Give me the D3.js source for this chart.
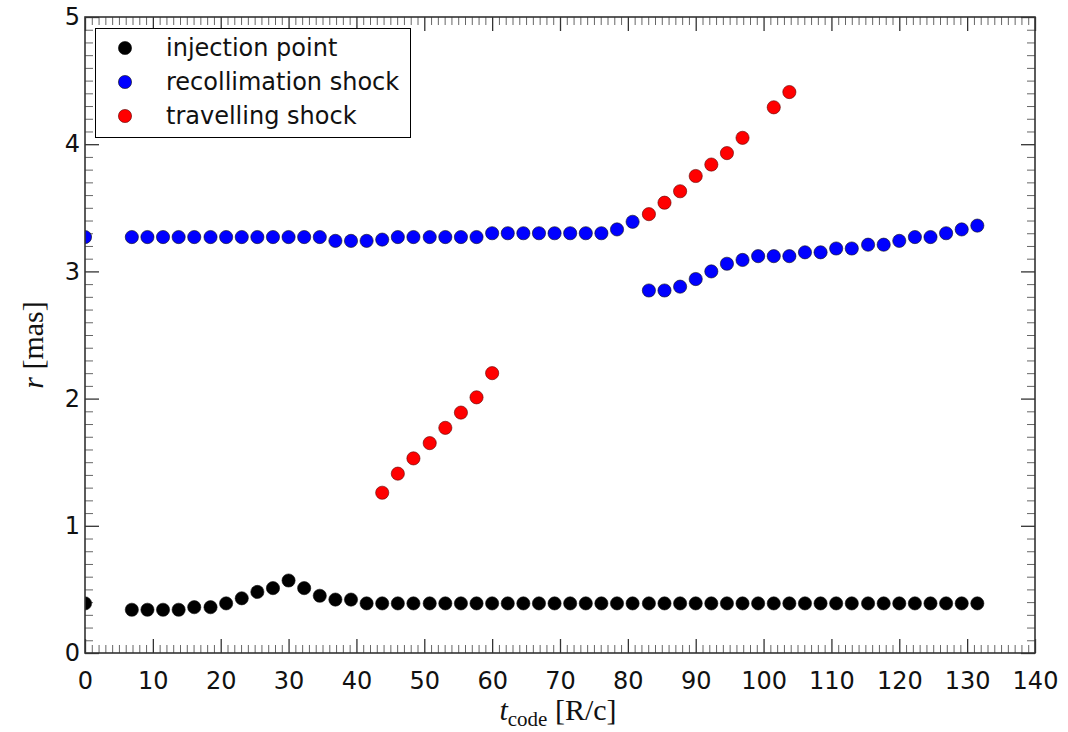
<!DOCTYPE html>
<html>
<head>
<meta charset="utf-8">
<script src="https://cdn.jsdelivr.net/npm/d3@7"></script>
<style>
	body{margin:0;background:#fff;}
	svg{display:block;}
</style>
</head>
<body>
<div id="container"></div>
<script>
// snapshot times (t_code), shared by injection point and recollimation shock
const tSnap = [0, 6.9, 9.2, 11.5, 13.8, 16.1, 18.5, 20.8, 23.1, 25.4, 27.7, 30.0, 32.3, 34.6, 36.9, 39.2, 41.5,
	43.8, 46.1, 48.4, 50.8, 53.1, 55.4, 57.7, 60.0, 62.3, 64.6, 66.9, 69.2, 71.5, 73.8, 76.1, 78.4, 80.7,
	83.1, 85.4, 87.7, 90.0, 92.3, 94.6, 96.9, 99.2, 101.5, 103.8, 106.1, 108.4, 110.7, 113.0, 115.4, 117.7,
	120.0, 122.3, 124.6, 126.9, 129.2, 131.5];

const rInjection = [0.39, 0.34, 0.34, 0.34, 0.34, 0.36, 0.36, 0.39, 0.43, 0.48, 0.51, 0.57, 0.51, 0.45, 0.42, 0.42, 0.39,
	0.39, 0.39, 0.39, 0.39, 0.39, 0.39, 0.39, 0.39, 0.39, 0.39, 0.39, 0.39, 0.39, 0.39, 0.39, 0.39, 0.39,
	0.39, 0.39, 0.39, 0.39, 0.39, 0.39, 0.39, 0.39, 0.39, 0.39, 0.39, 0.39, 0.39, 0.39, 0.39, 0.39,
	0.39, 0.39, 0.39, 0.39, 0.39, 0.39];

const rRecollimation = [3.27, 3.27, 3.27, 3.27, 3.27, 3.27, 3.27, 3.27, 3.27, 3.27, 3.27, 3.27, 3.27, 3.27, 3.24, 3.24, 3.24,
	3.25, 3.27, 3.27, 3.27, 3.27, 3.27, 3.27, 3.30, 3.30, 3.30, 3.30, 3.30, 3.30, 3.30, 3.30, 3.33, 3.39,
	2.85, 2.85, 2.88, 2.94, 3.00, 3.06, 3.09, 3.12, 3.12, 3.12, 3.15, 3.15, 3.18, 3.18, 3.21, 3.21,
	3.24, 3.27, 3.27, 3.30, 3.33, 3.36];

const tTravelling = [43.8, 46.1, 48.4, 50.8, 53.1, 55.4, 57.7, 60.0, 83.1, 85.4, 87.7, 90.0, 92.3, 94.6, 96.9, 101.5, 103.8];
const rTravelling = [1.26, 1.41, 1.53, 1.65, 1.77, 1.89, 2.01, 2.20, 3.45, 3.54, 3.63, 3.75, 3.84, 3.93, 4.05, 4.29, 4.41];

const seriesNames = ["injection point", "recollimation shock", "travelling shock"];
const seriesColors = ["#000000", "#0000ff", "#ff0000"];

const xTicks = [0, 10, 20, 30, 40, 50, 60, 70, 80, 90, 100, 110, 120, 130, 140];
const yTicks = [0, 1, 2, 3, 4, 5];

const width = 1068, height = 732;
const margin = {top: 17, right: 33, bottom: 79, left: 85};
const w = width - margin.left - margin.right;
const h = height - margin.top - margin.bottom;

let svg = d3.select("#container").append("svg")
	.attr("width", width)
	.attr("height", height);

let x = d3.scaleLinear().domain([0, 140]).range([0, w]);
let y = d3.scaleLinear().domain([0, 5]).range([h, 0]);

let g = svg.append("g").attr("transform", "translate(" + margin.left + "," + margin.top + ")");

svg.append("defs").append("clipPath").attr("id", "plotclip")
	.append("rect").attr("x", 0).attr("y", 0).attr("width", w).attr("height", h);

// minor ticks (inward, all four sides)
let xMinor = d3.range(0, 141, 1).filter(v => v % 10 != 0);
let yMinor = d3.range(0, 51, 1).filter(v => v % 10 != 0).map(v => v / 10);

function styleAxis(sel, minor){
	sel.select(".domain").remove();
	sel.selectAll("line").attr("stroke", minor ? "#666" : "#333").attr("stroke-width", minor ? 1 : 1.3);
}

g.append("g").attr("transform", "translate(0," + h + ")")
	.call(d3.axisBottom(x).tickValues(xMinor).tickSize(-8).tickFormat(""))
	.call(s => styleAxis(s, true));
g.append("g")
	.call(d3.axisTop(x).tickValues(xMinor).tickSize(-8).tickFormat(""))
	.call(s => styleAxis(s, true));
g.append("g")
	.call(d3.axisLeft(y).tickValues(yMinor).tickSize(-8).tickFormat(""))
	.call(s => styleAxis(s, true));
g.append("g").attr("transform", "translate(" + w + ",0)")
	.call(d3.axisRight(y).tickValues(yMinor).tickSize(-8).tickFormat(""))
	.call(s => styleAxis(s, true));

// major ticks
let xAxis = g.append("g").attr("transform", "translate(0," + h + ")")
	.call(d3.axisBottom(x).tickValues(xTicks).tickSize(-14).tickPadding(19).tickFormat(d3.format("d")));
styleAxis(xAxis, false);
g.append("g")
	.call(d3.axisTop(x).tickValues(xTicks).tickSize(-14).tickFormat(""))
	.call(s => styleAxis(s, false));
let yAxis = g.append("g")
	.call(d3.axisLeft(y).tickValues(yTicks).tickSize(-14).tickPadding(5).tickFormat(d3.format("d")));
styleAxis(yAxis, false);
g.append("g").attr("transform", "translate(" + w + ",0)")
	.call(d3.axisRight(y).tickValues(yTicks).tickSize(-14).tickFormat(""))
	.call(s => styleAxis(s, false));

svg.selectAll(".tick text")
	.attr("font-family", "DejaVu Sans")
	.attr("font-size", 24)
	.attr("fill", "#111");

// data points
let series = [
	{t: tSnap, r: rInjection},
	{t: tSnap, r: rRecollimation},
	{t: tTravelling, r: rTravelling}
];

let plot = g.append("g").attr("clip-path", "url(#plotclip)");
series.forEach(function(s, k){
	let pts = s.t.map((t, i) => ({t: t, r: s.r[i]}));
	plot.append("g").selectAll("circle").data(pts)
		.join("circle")
		.attr("cx", d => x(d.t))
		.attr("cy", d => y(d.r))
		.attr("r", 6.6)
		.attr("fill", seriesColors[k])
		.attr("stroke", k == 2 ? "#5a0000" : "#111")
		.attr("stroke-width", 0.6);
});

// frame
g.append("rect")
	.attr("x", 0).attr("y", 0).attr("width", w).attr("height", h)
	.attr("fill", "none").attr("stroke", "#333").attr("stroke-width", 1.6);

// legend
let legend = svg.append("g");
legend.append("rect")
	.attr("x", 95.5).attr("y", 28.5).attr("width", 315).attr("height", 109)
	.attr("fill", "#fff").attr("stroke", "#000").attr("stroke-width", 1);
seriesNames.forEach(function(name, k){
	let ly = 48 + k * 34;
	legend.append("circle")
		.attr("cx", 125).attr("cy", ly).attr("r", 6.6)
		.attr("fill", seriesColors[k])
		.attr("stroke", k == 2 ? "#5a0000" : "#111").attr("stroke-width", 0.6);
	legend.append("text")
		.attr("x", 166).attr("y", ly).attr("dy", "0.32em")
		.attr("font-family", "DejaVu Sans").attr("font-size", 24).attr("fill", "#111")
		.text(name);
});

// axis labels
let xl = svg.append("text")
	.attr("x", 558).attr("y", 720)
	.attr("text-anchor", "middle")
	.attr("font-family", "Liberation Serif").attr("font-size", 30).attr("fill", "#111");
xl.append("tspan").attr("font-style", "italic").text("t");
xl.append("tspan").attr("font-size", 21).attr("dy", 6).text("code");
xl.append("tspan").attr("dy", -6).text(" [R/c]");

let yl = svg.append("text")
	.attr("transform", "translate(43,345) rotate(-90)")
	.attr("text-anchor", "middle")
	.attr("font-family", "Liberation Serif").attr("font-size", 30).attr("fill", "#111");
yl.append("tspan").attr("font-style", "italic").text("r");
yl.append("tspan").text(" [mas]");
</script>
</body>
</html>
